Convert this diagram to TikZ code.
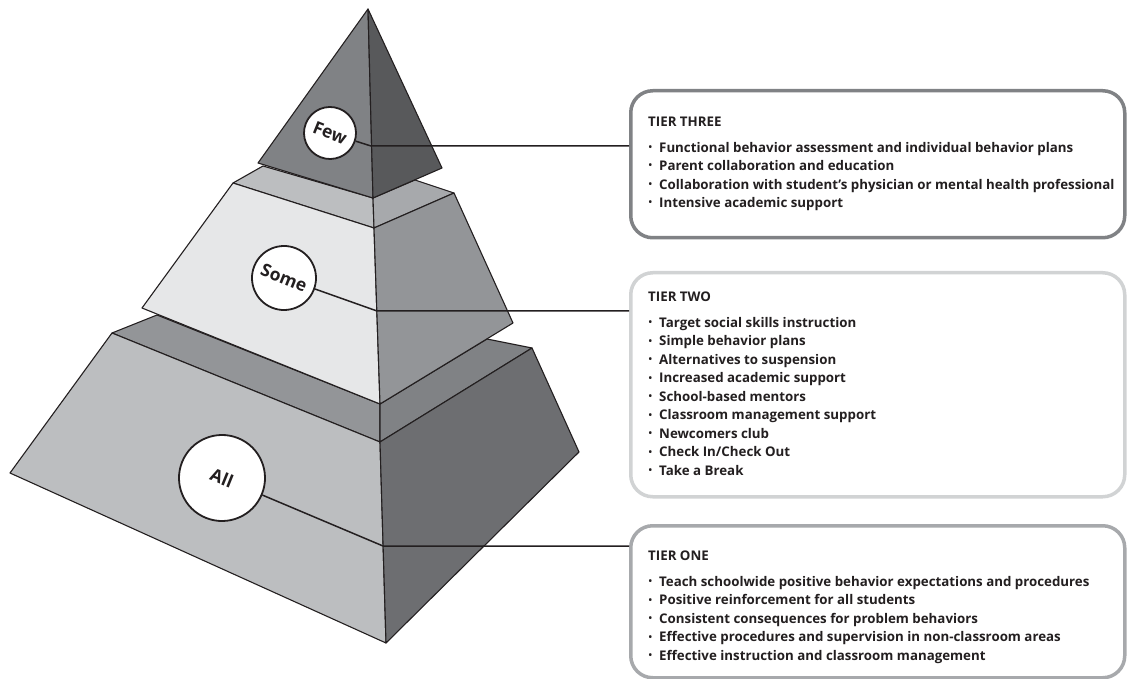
\documentclass[tikz,border=0pt]{standalone}
\usepackage{fontspec}
\usepackage{graphicx}
\setsansfont{Open Sans}
\usetikzlibrary{positioning}

\definecolor{ink}{HTML}{231F20}
\definecolor{shadeA}{HTML}{E6E7E8}
\definecolor{shadeB}{HTML}{BCBEC0}
\definecolor{shadeC}{HTML}{A7A9AC}
\definecolor{shadeD}{HTML}{939598}
\definecolor{shadeE}{HTML}{808285}
\definecolor{shadeF}{HTML}{6D6E71}
\definecolor{shadeG}{HTML}{58595B}
\definecolor{rimthree}{HTML}{808285}
\definecolor{rimtwo}{HTML}{D1D3D4}
\definecolor{rimone}{HTML}{A7A9AC}

\tikzset{
  face/.style={draw=ink, line width=1.1pt, line join=round},
  tiercirc/.style={circle, draw=ink, fill=white, line width=1.8pt, inner sep=0pt,
    text=ink, font=\sffamily\bfseries\fontsize{17.5}{17.5}\selectfont, rotate=-22},
  leader/.style={draw=ink, line width=1.5pt},
  tierbox/.style={draw, rounded corners=22pt, line width=3.5pt, fill=white,
    minimum width=494pt, anchor=north west},
  tiertext/.style={align=left, anchor=north west, inner sep=0pt, text=ink,
    font=\sffamily\bfseries\fontsize{13.3}{18.5}\selectfont},
}
\newcommand{\titem}[1]{\makebox[11pt][l]{\hspace{0.5pt}\raisebox{0.25ex}{\scalebox{0.7}{•}}}#1}

\begin{document}
\begin{tikzpicture}[x=1pt,y=-1pt]
\useasboundingbox (0,0) rectangle (1128,679);

% pyramid corners
\coordinate (apex) at (368,9);
\coordinate (tl) at (258,163);
\coordinate (tf) at (373,198);
\coordinate (tr) at (442,168);
\coordinate (ml) at (233,183);
\coordinate (mf) at (374,228);
\coordinate (mr) at (454,193);
\coordinate (mbl) at (142,308);
\coordinate (mbc) at (380,404);
\coordinate (mbr) at (513,323);
\coordinate (bl) at (112,333);
\coordinate (bf) at (380,442);
\coordinate (br) at (532,348);
\coordinate (bbl) at (10,473);
\coordinate (bbc) at (386,643);
\coordinate (bbr) at (579,452);

% bottom tier
\draw[face,fill=shadeD] (bl) -- (bf) -- (mbc) -- (157,315) -- cycle;
\draw[face,fill=shadeE] (bf) -- (br) -- (487,339) -- (mbc) -- cycle;
\draw[face,fill=shadeB] (bl) -- (bf) -- (bbc) -- (bbl) -- cycle;
\draw[face,fill=shadeF] (bf) -- (br) -- (bbr) -- (bbc) -- cycle;

% middle tier
\draw[face,fill=shadeB] (ml) -- (mf) -- (tf) -- (263,166) -- cycle;
\draw[face,fill=shadeC] (mf) -- (mr) -- (415,180) -- (tf) -- cycle;
\draw[face,fill=shadeA] (ml) -- (mf) -- (mbc) -- (mbl) -- cycle;
\draw[face,fill=shadeD] (mf) -- (mr) -- (mbr) -- (mbc) -- cycle;

% top tier
\draw[face,fill=shadeE] (apex) -- (tl) -- (tf) -- cycle;
\draw[face,fill=shadeG] (apex) -- (tf) -- (tr) -- cycle;

% labels on the pyramid
\node[tiercirc, minimum size=52pt] (few) at (330,133) {Few};
\node[tiercirc, minimum size=64pt] (some) at (284,278) {Some};
\node[tiercirc, minimum size=86pt] (all) at (222,478) {All};

\coordinate (fewjoin) at (371,146);
\coordinate (somejoin) at (377,311);
\coordinate (alljoin) at (383,546);

% boxes
\node[tierbox, draw=rimthree, minimum height=147pt] (three) at (629,89) {};
\node[tierbox, draw=rimtwo, minimum height=224pt] (two) at (629,271) {};
\node[tierbox, draw=rimone, minimum height=152pt] (one) at (629,524) {};

\node[tiertext] (threetext) at (648,117) {TIER THREE\\[7pt]
  \titem{Functional behavior assessment and individual behavior plans}\\
  \titem{Parent collaboration and education}\\
  \titem{Collaboration with student's physician or mental health professional}\\
  \titem{Intensive academic support}};

\node[tiertext] (twotext) at (648,292) {TIER TWO\\[7pt]
  \titem{Target social skills instruction}\\
  \titem{Simple behavior plans}\\
  \titem{Alternatives to suspension}\\
  \titem{Increased academic support}\\
  \titem{School-based mentors}\\
  \titem{Classroom management support}\\
  \titem{Newcomers club}\\
  \titem{Check In/Check Out}\\
  \titem{Take a Break}};

\node[tiertext] (onetext) at (648,551) {TIER ONE\\[7pt]
  \titem{Teach schoolwide positive behavior expectations and procedures}\\
  \titem{Positive reinforcement for all students}\\
  \titem{Consistent consequences for problem behaviors}\\
  \titem{Effective procedures and supervision in non-classroom areas}\\
  \titem{Effective instruction and classroom management}};

% leader lines
\draw[leader] (few) -- (fewjoin) -- (fewjoin -| three.west);
\draw[leader] (some) -- (somejoin) -- (somejoin -| two.west);
\draw[leader] (all) -- (alljoin) -- (alljoin -| one.west);
\end{tikzpicture}
\end{document}
